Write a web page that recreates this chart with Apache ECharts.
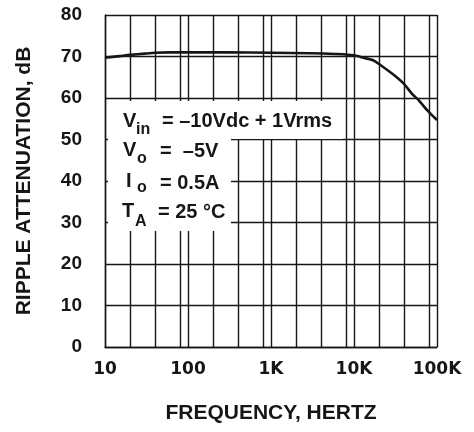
<!DOCTYPE html>
<html>
<head>
<meta charset="utf-8">
<script src="https://cdn.jsdelivr.net/npm/echarts@6/dist/echarts.min.js"></script>
<style>
  html, body { margin: 0; padding: 0; background: #fff; }
  #chart { width: 474px; height: 432px; }
</style>
</head>
<body>
<div id="chart"></div>
<script>
// Ripple attenuation vs. frequency
const frequencyHz = [10, 15, 20, 30, 40, 60, 100, 300, 1000, 3000, 6000, 8000, 10000, 12000, 17000, 20000, 30000, 40000, 50000, 60000, 75000, 100000];
const attenuationDb = [69.7, 70.1, 70.4, 70.7, 70.9, 71.0, 71.0, 71.0, 70.9, 70.8, 70.6, 70.5, 70.3, 69.9, 69.1, 68.2, 65.6, 63.4, 61.0, 59.5, 57.2, 54.7];

// decade ticks and their labels
const xTickValues = [10, 100, 1000, 10000, 100000];
const xTickLabels = ['10', '100', '1K', '10K', '100K'];
// intermediate vertical rulings inside each decade (2, 4, 8 ×)
const xRulings = [20, 40, 80, 200, 400, 800, 2000, 4000, 8000, 20000, 40000, 80000];

const INK = '#161616';
const chart = echarts.init(document.getElementById('chart'), null, { renderer: 'canvas' });

const gridLine = { color: INK, width: 1.4 };

function boxText(x, y, text, size, extra) {
  return Object.assign({
    type: 'text', x: x, y: y, z: 60,
    style: {
      text: text, fill: INK,
      font: 'bold ' + size + 'px "Liberation Sans", Arial, sans-serif',
      verticalAlign: 'middle', align: 'left'
    }
  }, extra || {});
}

chart.setOption({
  animation: false,
  backgroundColor: '#fff',
  grid: { left: 105, right: 37, top: 15, bottom: 85, containLabel: false },
  xAxis: {
    type: 'log', logBase: 10, min: 10, max: 100000,
    name: 'FREQUENCY, HERTZ', nameLocation: 'middle', nameGap: 56,
    nameTextStyle: { color: INK, fontSize: 21, fontWeight: 'bold', fontFamily: '"Liberation Sans", Arial, sans-serif' },
    axisLine: { show: true, lineStyle: gridLine },
    axisTick: { show: false },
    axisLabel: {
      color: INK, fontSize: 17, fontWeight: 'bold', fontFamily: '"DejaVu Sans", sans-serif', margin: 14,
      formatter: function (v) {
        const i = xTickValues.findIndex(t => Math.abs(t - v) / t < 1e-6);
        return i >= 0 ? xTickLabels[i] : '';
      }
    },
    splitLine: { show: true, lineStyle: gridLine }
  },
  yAxis: {
    type: 'value', min: 0, max: 80, interval: 10,
    name: 'RIPPLE ATTENUATION, dB', nameLocation: 'middle', nameGap: 70,
    nameTextStyle: { color: INK, fontSize: 21, fontWeight: 'bold', fontFamily: '"Liberation Sans", Arial, sans-serif' },
    axisLine: { show: true, lineStyle: gridLine },
    axisTick: { show: false },
    axisLabel: { color: INK, fontSize: 19, fontWeight: 'bold', fontFamily: '"Liberation Sans", Arial, sans-serif', margin: 23 },
    splitLine: { show: true, lineStyle: gridLine }
  },
  series: [{
    type: 'line',
    data: frequencyHz.map((f, i) => [f, attenuationDb[i]]),
    smooth: 0.2,
    showSymbol: false,
    lineStyle: { color: INK, width: 2.6 },
    markLine: {
      silent: true, symbol: 'none', label: { show: false },
      lineStyle: { color: INK, width: 1.4, type: 'solid' },
      data: xRulings.map(v => ({ xAxis: v }))
    }
  }],
  graphic: [
    // blanked-out panel behind the test conditions
    { type: 'rect', z: 50, shape: { x: 108, y: 101, width: 235, height: 38 }, style: { fill: '#fff' } },
    { type: 'rect', z: 50, shape: { x: 108, y: 101, width: 123, height: 130 }, style: { fill: '#fff' } },

    boxText(123, 121, 'V', 20),
    boxText(136, 130, 'in', 16),
    boxText(162, 121, '= \u201310Vdc + 1Vrms', 20),

    boxText(123, 150, 'V', 20),
    boxText(137, 159, 'o', 16),
    boxText(160, 151, '=  \u20135V', 20),

    boxText(126, 181, 'I', 20),
    boxText(137, 188, 'o', 16),
    boxText(160, 183, '= 0.5A', 20),

    boxText(122, 211, 'T', 20),
    boxText(135, 222, 'A', 16),
    boxText(158, 212, '= 25 \u00b0C', 20)
  ]
});
</script>
</body>
</html>
